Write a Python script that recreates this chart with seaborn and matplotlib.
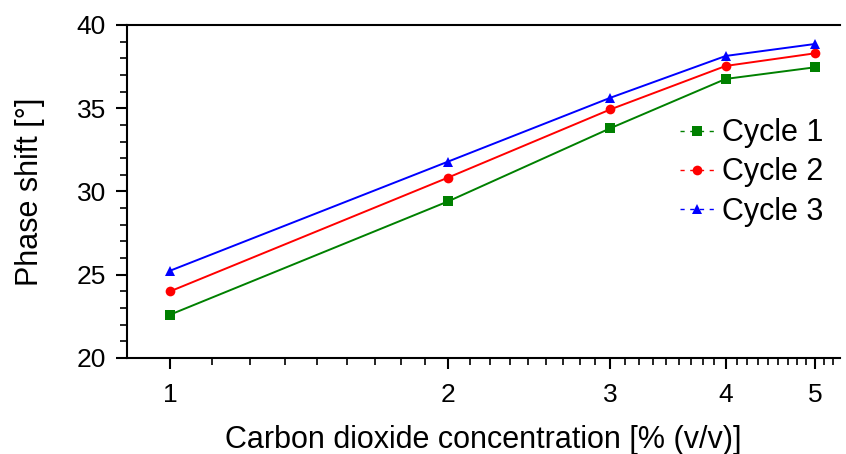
import numpy as np
import pandas as pd
import matplotlib
matplotlib.use("Agg")
import matplotlib.pyplot as plt
import seaborn as sns
from matplotlib.lines import Line2D
from matplotlib.ticker import FixedLocator, NullFormatter

concentration = [1, 2, 3, 4, 5]
cycle1 = [22.6, 29.4, 33.8, 36.76, 37.46]
cycle2 = [24.0, 30.83, 34.93, 37.54, 38.3]
cycle3 = [25.24, 31.79, 35.63, 38.14, 38.86]
labels = ["Cycle 1", "Cycle 2", "Cycle 3"]
colors = ["#008000", "#ff0000", "#0000ff"]
markers = ["s", "o", "^"]

df = pd.DataFrame({
    "x": concentration * 3,
    "y": cycle1 + cycle2 + cycle3,
    "cycle": sum([[l] * len(concentration) for l in labels], []),
})

sns.set_theme(style="white")
plt.rcParams["font.family"] = ["Liberation Sans", "DejaVu Sans"]
plt.rcParams["text.color"] = "black"
plt.rcParams["axes.labelcolor"] = "black"
plt.rcParams["xtick.color"] = "black"
plt.rcParams["ytick.color"] = "black"

fig = plt.figure(figsize=(8.46, 4.54), dpi=100)
ax = fig.add_axes([0.150, 0.2115, 0.843, 0.7335])

sns.lineplot(data=df, x="x", y="y", hue="cycle", style="cycle",
             palette=dict(zip(labels, colors)),
             markers=dict(zip(labels, markers)), dashes=False,
             markersize=7, markeredgewidth=0, linewidth=1.4,
             legend=False, ax=ax)

ax.set_xscale("log")
ax.set_xlim(0.898, 5.32)
ax.set_ylim(20, 40)
ax.set_xticks(concentration)
ax.set_xticklabels([str(c) for c in concentration])
minors = []
for a in range(1, 6):
    for k in range(1, 9):
        v = a + k / 9
        if v < 5.32:
            minors.append(v)
ax.xaxis.set_minor_locator(FixedLocator(minors))
ax.xaxis.set_minor_formatter(NullFormatter())
ax.set_yticks([20, 25, 30, 35, 40])
ax.yaxis.set_minor_locator(FixedLocator([v for v in range(20, 41) if v % 5]))

ax.spines["right"].set_visible(False)
for s in ["left", "bottom", "top"]:
    ax.spines[s].set_color("black")
    ax.spines[s].set_linewidth(1.5)

ax.tick_params(axis="both", which="major", direction="out", length=8, width=1.5,
               color="black", labelsize=19, pad=7, bottom=True, left=True, top=False, right=False)
ax.tick_params(axis="x", which="major", pad=10)
ax.tick_params(axis="both", which="minor", direction="out", length=5, width=1.2,
               color="black", bottom=True, left=True, top=False, right=False)

ax.set_xlabel("Carbon dioxide concentration [% (v/v)]", fontsize=22, labelpad=13)
ax.set_ylabel("Phase shift [°]", fontsize=22, labelpad=23)

handles = [Line2D([0], [0], color=c, marker=m, linestyle=(0, (3, 4)), linewidth=1,
                  markersize=7, markeredgewidth=0) for c, m in zip(colors, markers)]
ax.legend(handles, labels, loc="upper left", bbox_to_anchor=(0.775, 0.72),
          frameon=False, fontsize=22, handlelength=1.15, handletextpad=0.25,
          labelspacing=0.3, borderaxespad=0, borderpad=0)

fig.savefig("out.png", dpi=100)
